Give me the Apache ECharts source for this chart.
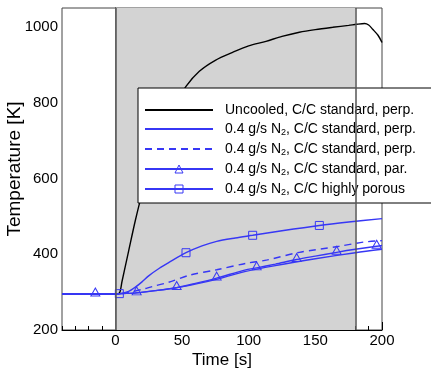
<!DOCTYPE html>
<html>
<head>
<meta charset="utf-8">
<script src="https://cdn.jsdelivr.net/npm/echarts@6/dist/echarts.min.js"></script>
<style>
  html, body { margin: 0; padding: 0; background: #fff; }
  #chart { width: 431px; height: 374px; }
</style>
</head>
<body>
<div id="chart"></div>
<script>
// values: time [s] vs temperature [K]
const uncooledTime = [-40, 0, 3, 5, 10, 15, 20, 25, 30, 40, 45, 53, 63, 75, 88, 100, 113, 125, 138, 150, 163, 175, 181, 187, 190, 193, 197, 200]
const uncooledTemp = [295, 295, 297, 328, 409, 489, 560, 620, 672, 760, 795, 843, 883, 912, 933, 950, 962, 975, 986, 993, 999, 1004, 1007, 1009, 1005, 994, 978, 959]

const perpTime = [-40, 0, 5, 15, 30, 45, 60, 75, 97, 120, 150, 180, 200]
const perpTemp = [295, 295, 296, 298, 304, 311, 321, 333, 354, 370, 388, 404, 413]

const dashTime = [-40, 0, 5, 10, 15, 20, 28, 40, 56, 76, 98, 114, 138, 168, 186, 200]
const dashTemp = [295, 295, 296, 299, 303, 307, 315, 326, 345, 359, 376, 385, 405, 421, 432, 436]

const parTime = [-40, -15, 0, 5, 16, 30, 46, 60, 76, 97, 106, 120, 136, 150, 166, 180, 196, 200]
const parTemp = [295, 295, 295, 296, 298, 304, 312, 323, 337, 358, 364, 374, 386, 395, 405, 413, 421, 423]
const parMarks = [-15, 16, 46, 76, 106, 136, 166, 196]

const porousTime = [-40, 0, 3, 10, 15, 20, 25, 33, 40, 53, 65, 76, 90, 103, 125, 153, 175, 200]
const porousTemp = [295, 295, 296, 302, 313, 327, 343, 363, 378, 404, 422, 434, 443, 450, 462, 476, 485, 494]
const porousMarks = [3, 53, 103, 153]

const heatedSpan = [0, 180]
const xTicks = [0, 50, 100, 150, 200]

const legendText = {
  unc: 'Uncooled, C/C standard, perp.',
  perp: '0.4 g/s N{sub|2}, C/C standard, perp.',
  dash: '0.4 g/s N{sub|2}, C/C standard, perp.',
  par: '0.4 g/s N{sub|2}, C/C standard, par.',
  por: '0.4 g/s N{sub|2}, C/C highly porous',
}

const BLUE = '#3737f5'
const FONT = 'Liberation Sans, Arial, sans-serif'
const pairs = (xs, ys) => xs.map((x, i) => [x, ys[i]])
const noMark = { opacity: 0 }
const hollow = { color: 'rgba(0,0,0,0)', borderColor: BLUE, borderWidth: 1 }

const chart = echarts.init(document.getElementById('chart'))

chart.setOption({
  animation: false,
  backgroundColor: '#fff',
  textStyle: { fontFamily: FONT },
  grid: {
    left: 62, right: 49, top: 8, bottom: 44, outerBoundsMode: 'none',
    show: true, borderColor: '#444', borderWidth: 1,
  },
  legend: {
    orient: 'vertical', left: 138, top: 88,
    backgroundColor: '#fff', borderColor: '#000', borderWidth: 1,
    padding: [15, 30, 6, 6],
    itemWidth: 68, itemHeight: 10, itemGap: 5,
    textStyle: {
      fontSize: 14, color: '#000', fontFamily: FONT, padding: [0, 0, 0, 7],
      rich: { sub: { fontSize: 9, padding: [7, 0, 0, 0], fontFamily: FONT, color: '#000' } },
    },
    formatter: n => legendText[n],
    data: [
      { name: 'unc', itemStyle: noMark },
      { name: 'perp', itemStyle: noMark },
      { name: 'dash', itemStyle: noMark },
      { name: 'par', itemStyle: hollow },
      { name: 'por', itemStyle: hollow },
    ],
  },
  xAxis: [{
    type: 'value', min: -40, max: 200, interval: 10,
    name: 'Time [s]', nameLocation: 'middle', nameGap: 22, nameMoveOverlap: false,
    nameTextStyle: { fontSize: 17, color: '#000', fontFamily: FONT },
    axisLine: { lineStyle: { color: '#000', width: 1 } },
    axisTick: { inside: true, length: 4, lineStyle: { color: '#000' } },
    axisLabel: { customValues: xTicks, fontSize: 15, color: '#000', margin: 3, fontFamily: FONT },
    splitLine: { show: false },
  }, {
    type: 'value', min: -40, max: 200, position: 'bottom',
    axisLine: { show: false },
    axisTick: { inside: true, length: 8, customValues: xTicks, lineStyle: { color: '#000' } },
    axisLabel: { show: false },
    splitLine: { show: false },
  }],
  yAxis: {
    type: 'value', min: 200, max: 1050, interval: 50,
    name: 'Temperature [K]', nameLocation: 'middle', nameGap: 38, nameMoveOverlap: false,
    nameTextStyle: { fontSize: 19, color: '#000', fontFamily: FONT },
    axisLine: { show: true, lineStyle: { color: '#000', width: 1 } },
    axisTick: { inside: true, length: 4, lineStyle: { color: '#000' } },
    axisLabel: {
      fontSize: 15, color: '#000', margin: 4, fontFamily: FONT,
      formatter: v => (v % 200 === 0 ? String(v) : ''),
    },
    splitLine: { show: false },
  },
  series: [
    {
      name: 'unc', type: 'line', data: pairs(uncooledTime, uncooledTemp),
      smooth: 0.3, symbol: 'none', z: 3,
      lineStyle: { color: '#000', width: 1.4 }, itemStyle: { color: '#000' },
      markArea: {
        silent: true,
        itemStyle: { color: '#d3d3d3' },
        data: [[{ xAxis: heatedSpan[0] }, { xAxis: heatedSpan[1] }]],
      },
      markLine: {
        silent: true, symbol: 'none', label: { show: false },
        lineStyle: { color: '#555', width: 1.5, type: 'solid' },
        data: heatedSpan.map(x => ({ xAxis: x })),
      },
    },
    {
      name: 'perp', type: 'line', data: pairs(perpTime, perpTemp),
      smooth: 0.3, symbol: 'none',
      lineStyle: { color: BLUE, width: 1.4 }, itemStyle: { color: BLUE },
    },
    {
      name: 'dash', type: 'line', data: pairs(dashTime, dashTemp),
      smooth: 0.3, symbol: 'none',
      lineStyle: { color: BLUE, width: 1.4, type: [7, 5] }, itemStyle: { color: BLUE },
    },
    {
      name: 'par', type: 'line', data: pairs(parTime, parTemp),
      smooth: 0.3, symbol: 'triangle', showSymbol: true,
      symbolSize: v => (parMarks.includes(v[0]) ? [9, 8] : 0),
      symbolOffset: [0, -2],
      lineStyle: { color: BLUE, width: 1.4 },
      itemStyle: hollow,
    },
    {
      name: 'por', type: 'line', data: pairs(porousTime, porousTemp),
      smooth: 0.3, symbol: 'rect', showSymbol: true,
      symbolSize: v => (porousMarks.includes(v[0]) ? 8 : 0),
      lineStyle: { color: BLUE, width: 1.4 },
      itemStyle: hollow,
    },
  ],
})
</script>
</body>
</html>
